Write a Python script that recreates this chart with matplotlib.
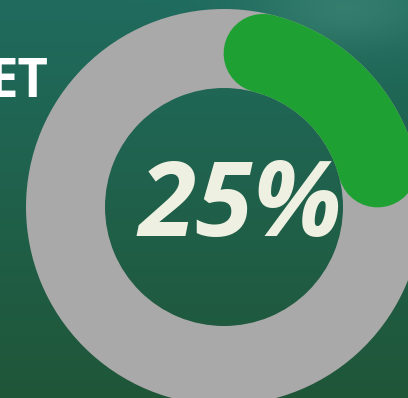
import numpy as np
import matplotlib.pyplot as plt
from matplotlib.patches import Wedge
from matplotlib.colors import to_rgb

# Valores del indicador
percent = 25
label = "25%"
title_text = "ET"

W, H = 408, 398
fig = plt.figure(figsize=(W / 100, H / 100), dpi=100)
ax = fig.add_axes([0, 0, 1, 1])
ax.set_xlim(0, W)
ax.set_ylim(H, 0)
ax.set_aspect("equal")
ax.axis("off")

# Fondo degradado verde azulado con un brillo arriba a la derecha
top = np.array(to_rgb("#1f6b5e"))
bottom = np.array(to_rgb("#1f5638"))
glow = np.array(to_rgb("#4a907e"))
yy, xx = np.mgrid[0:H, 0:W]
t = (yy / H)[..., None]
bg = top * (1 - t) + bottom * t
d = np.sqrt(((xx - 345) / 90.0) ** 2 + ((yy - 8) / 40.0) ** 2)
g = np.clip(np.exp(-d ** 2) * 0.5, 0, 1)[..., None]
bg = bg * (1 - g) + glow * g
ax.imshow(bg, extent=(0, W, H, 0), zorder=0)

# Anillo
cx, cy = 224, 207
r_out, r_in = 198, 119
ring_w = r_out - r_in
r_mid = (r_out + r_in) / 2
ax.add_patch(Wedge((cx, cy), r_out, 0, 360, width=ring_w,
                   facecolor="#a9a9a9", edgecolor="none", zorder=1))

# Arco de progreso con extremos redondeados
span = percent / 100 * 360
cap = np.degrees((ring_w / 2) / r_mid)
theta = np.radians(np.linspace(cap, span - cap, 200))
lw_pt = ring_w * 72 / fig.dpi
ax.plot(cx + r_mid * np.sin(theta), cy - r_mid * np.cos(theta),
        color="#1ea032", lw=lw_pt, solid_capstyle="round", zorder=2)

# Textos (el titulo queda recortado por el borde izquierdo)
ax.text(240, 236, label, ha="center", va="baseline", color="#eef1e2",
        fontsize=75, fontweight="bold", fontstyle="italic",
        family=["Open Sans", "DejaVu Sans"], zorder=3)
ax.text(48, 97, title_text, ha="right", va="baseline", color="white",
        fontsize=38, fontweight="bold",
        family=["Open Sans", "DejaVu Sans"], zorder=3)

fig.savefig("out.png", dpi=100)
